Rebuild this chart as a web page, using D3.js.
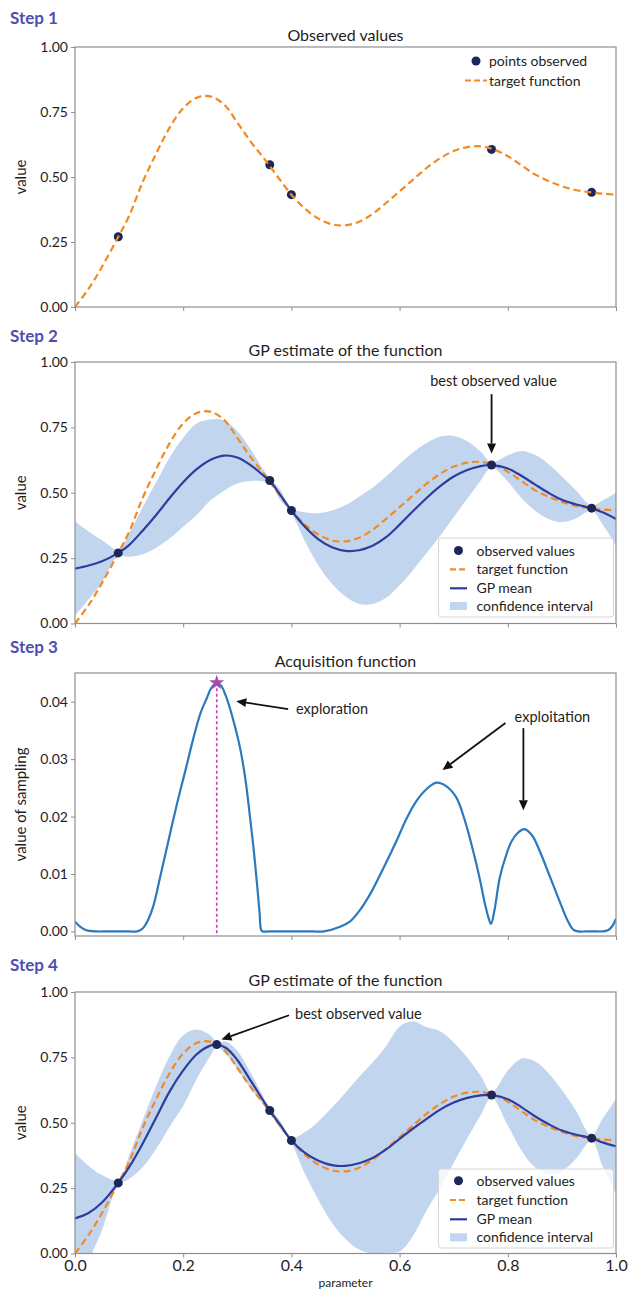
<!DOCTYPE html>
<html><head><meta charset="utf-8">
<script src="https://cdn.jsdelivr.net/npm/d3@7"></script>
<style>
body{margin:0;background:#fff;}
text{font-family:Lato,"Open Sans",sans-serif;fill:#1e1e1e;}
</style>
</head><body>
<svg id="chart" width="628" height="1291"></svg>
<script>
// ---------- DATA ----------
const stepLabels = ["Step 1","Step 2","Step 3","Step 4"];
const panelTitles = ["Observed values","GP estimate of the function","Acquisition function","GP estimate of the function"];
const valueTicks = [0,0.25,0.5,0.75,1.0];
const samplingTicks = [0,0.01,0.02,0.03,0.04];
const paramTicks = [0,0.2,0.4,0.6,0.8,1.0];

// target function
const targetX = [0,0.025,0.05,0.08,0.1,0.125,0.15,0.175,0.2,0.225,0.25,0.275,0.3,0.325,0.35,0.375,0.4,0.425,0.45,0.475,0.5,0.525,0.55,0.575,0.6,0.625,0.65,0.675,0.7,0.725,0.75,0.775,0.8,0.825,0.85,0.875,0.9,0.925,0.95,0.975,1.0];
const targetY = [0.0,0.07,0.155,0.27,0.35,0.48,0.59,0.69,0.765,0.805,0.81,0.78,0.71,0.635,0.57,0.50,0.432,0.378,0.34,0.318,0.314,0.328,0.358,0.40,0.445,0.49,0.535,0.572,0.60,0.615,0.618,0.605,0.58,0.545,0.51,0.485,0.465,0.45,0.442,0.436,0.432];

// observed points (steps 1-2)
const obsX = [0.08,0.36,0.40,0.77,0.955];
const obsY = [0.27,0.547,0.432,0.606,0.441];
// observed points after new sample (step 4)
const obs4X = [0.08,0.262,0.36,0.40,0.77,0.955];
const obs4Y = [0.27,0.799,0.547,0.432,0.606,0.441];

// step 2 GP
const gp2X = [0,0.025,0.05,0.08,0.1,0.125,0.15,0.175,0.2,0.225,0.25,0.275,0.3,0.325,0.35,0.36,0.38,0.4,0.425,0.45,0.475,0.5,0.525,0.55,0.575,0.6,0.625,0.65,0.675,0.7,0.725,0.75,0.77,0.8,0.825,0.85,0.875,0.9,0.925,0.955,0.975,1.0];
const gp2Mean = [0.21,0.222,0.238,0.27,0.30,0.355,0.415,0.48,0.54,0.59,0.625,0.642,0.635,0.605,0.563,0.547,0.49,0.432,0.37,0.322,0.292,0.278,0.28,0.297,0.33,0.378,0.43,0.48,0.525,0.562,0.587,0.602,0.606,0.593,0.565,0.532,0.50,0.473,0.456,0.441,0.425,0.40];
const gp2Lower = [0.03,0.092,0.158,0.258,0.255,0.265,0.29,0.325,0.37,0.415,0.47,0.507,0.535,0.545,0.543,0.537,0.47,0.422,0.315,0.222,0.152,0.103,0.075,0.075,0.098,0.146,0.205,0.27,0.335,0.407,0.477,0.547,0.596,0.543,0.48,0.432,0.40,0.388,0.401,0.431,0.38,0.30];
const gp2Upper = [0.39,0.352,0.318,0.282,0.345,0.445,0.54,0.635,0.71,0.765,0.78,0.777,0.735,0.665,0.583,0.557,0.51,0.442,0.425,0.422,0.432,0.453,0.485,0.519,0.562,0.61,0.655,0.69,0.715,0.717,0.697,0.657,0.616,0.643,0.66,0.645,0.61,0.562,0.511,0.451,0.47,0.50];

// step 3 acquisition function
const acqX = [0,0.01,0.021,0.04,0.06,0.08,0.1,0.115,0.125,0.135,0.145,0.157,0.172,0.188,0.204,0.219,0.232,0.244,0.252,0.262,0.27,0.28,0.292,0.305,0.315,0.323,0.33,0.336,0.341,0.344,0.347,0.36,0.38,0.40,0.42,0.44,0.46,0.49,0.508,0.525,0.545,0.57,0.594,0.612,0.631,0.65,0.668,0.686,0.705,0.72,0.736,0.748,0.758,0.764,0.769,0.775,0.785,0.796,0.807,0.82,0.831,0.845,0.859,0.878,0.896,0.91,0.921,0.93,0.945,0.96,0.975,0.985,0.993,1.0];
const acqY = [0.0017,0.0008,0.0002,0.0,0.0,0.0,0.0,0.0,0.0005,0.002,0.0045,0.0093,0.0155,0.022,0.028,0.0337,0.038,0.0407,0.0424,0.0433,0.0428,0.0407,0.037,0.032,0.0265,0.0203,0.0145,0.0087,0.0035,0.0003,0.0,0.0,0.0,0.0,0.0,0.0,0.0,0.0008,0.0017,0.0035,0.0064,0.011,0.0157,0.0195,0.0227,0.0248,0.0259,0.0253,0.0233,0.0195,0.014,0.0092,0.0047,0.0025,0.0013,0.0035,0.0093,0.013,0.0157,0.0173,0.0178,0.0167,0.014,0.0095,0.0052,0.002,0.0003,0.0,0.0,0.0,0.0,0.0002,0.0009,0.0022];
const nextX = 0.262, nextY = 0.0433;

// step 4 GP
const gp4X = [0,0.025,0.05,0.08,0.1,0.125,0.15,0.175,0.2,0.225,0.25,0.262,0.28,0.3,0.325,0.36,0.38,0.4,0.425,0.45,0.475,0.5,0.525,0.55,0.575,0.6,0.625,0.65,0.675,0.7,0.725,0.75,0.77,0.8,0.825,0.85,0.875,0.9,0.925,0.955,0.975,1.0];
const gp4Mean = [0.134,0.155,0.195,0.27,0.33,0.42,0.52,0.62,0.70,0.762,0.795,0.799,0.785,0.74,0.66,0.547,0.49,0.432,0.385,0.355,0.338,0.335,0.345,0.365,0.398,0.438,0.478,0.515,0.55,0.577,0.595,0.605,0.606,0.59,0.56,0.525,0.495,0.47,0.455,0.441,0.425,0.41];
const gp4Lower = [-0.116,-0.025,0.09,0.26,0.285,0.33,0.40,0.485,0.565,0.667,0.755,0.789,0.76,0.705,0.63,0.537,0.475,0.422,0.305,0.205,0.118,0.055,0.015,0.0,0.003,0.008,0.068,0.165,0.25,0.347,0.44,0.53,0.596,0.49,0.395,0.33,0.305,0.315,0.36,0.431,0.335,0.23];
const gp4Upper = [0.384,0.335,0.30,0.28,0.375,0.51,0.64,0.755,0.835,0.857,0.835,0.809,0.81,0.775,0.69,0.557,0.505,0.442,0.465,0.505,0.558,0.615,0.675,0.73,0.793,0.868,0.888,0.865,0.85,0.807,0.75,0.68,0.616,0.70,0.745,0.735,0.69,0.625,0.55,0.451,0.515,0.59];

const legend1Labels = ["points observed","target function"];
const legendGPLabels = ["observed values","target function","GP mean","confidence interval"];

// ---------- STYLE ----------
const C = {
  orange:"#f28a24", mean:"#2c3d9c", dot:"#1c2758", band:"#c2d5ef",
  acq:"#2b79be", magenta:"#c23fbf", star:"#a94aa8", frame:"#8f8f8f",
  step:"#4c4fb0"
};
const X0 = 75, X1 = 616;
const layout = [
  {top:47, h:260},
  {top:362, h:261.5},
  {top:673, h:263},
  {top:992, h:261.5}
];

const svg = d3.select("#chart");
const x = d3.scaleLinear().domain([0,1]).range([X0,X1]);
const zip = (a,b)=>a.map((v,i)=>[v,b[i]]);
const curve = d3.curveCatmullRom.alpha(0.5);

function makePanel(i, yDomain, yTicks, yFmt, yLabel, showX){
  const L = layout[i];
  const y = d3.scaleLinear().domain(yDomain).range([L.top+L.h, L.top]);
  const g = svg.append("g");
  const clipId = "clip"+i;
  svg.append("clipPath").attr("id",clipId).append("rect")
    .attr("x",X0).attr("y",L.top).attr("width",X1-X0).attr("height",L.h);
  const plot = g.append("g").attr("clip-path",`url(#${clipId})`);
  const ya = g.append("g").attr("transform",`translate(${X0},0)`)
    .call(d3.axisLeft(y).tickValues(yTicks).tickFormat(d3.format(yFmt)).tickSize(4).tickPadding(3));
  ya.select(".domain").remove();
  ya.selectAll("line").attr("stroke",C.frame);
  ya.selectAll("text").style("font-size","14px").style("font-family","Lato").attr("fill","#1e1e1e");
  const xa = g.append("g").attr("transform",`translate(0,${L.top+L.h})`)
    .call(d3.axisBottom(x).tickValues(paramTicks).tickFormat(showX? d3.format(".1f") : ()=>"").tickSize(4).tickPadding(2));
  xa.select(".domain").remove();
  xa.selectAll("line").attr("stroke",C.frame);
  xa.selectAll("text").style("font-size","16px").style("font-family","Lato").attr("fill","#1e1e1e");
  const frame = ()=> g.append("rect").attr("x",X0).attr("y",L.top).attr("width",X1-X0).attr("height",L.h)
    .attr("fill","none").attr("stroke",C.frame).attr("stroke-width",1.2);
  svg.append("text").attr("x",10).attr("y",L.top-[23,20,20,21][i]).text(stepLabels[i])
    .style("font-size","17px").style("font-weight","700").style("fill",C.step);
  svg.append("text").attr("x",(X0+X1)/2).attr("y",L.top-6).attr("text-anchor","middle")
    .text(panelTitles[i]).style("font-size","16px");
  svg.append("text").attr("transform",`translate(${26},${L.top+L.h/2}) rotate(-90)`)
    .attr("text-anchor","middle").text(yLabel).style("font-size","15px");
  return {g, plot, y, frame, L};
}

function drawTarget(P){
  P.plot.append("path").datum(zip(targetX,targetY))
    .attr("d", d3.line().x(d=>x(d[0])).y(d=>P.y(d[1])).curve(curve))
    .attr("fill","none").attr("stroke",C.orange).attr("stroke-width",2.2).attr("stroke-dasharray","7,4");
}
function drawDots(P, xs, ys){
  P.g.append("g").selectAll("circle").data(zip(xs,ys)).join("circle")
    .attr("cx",d=>x(d[0])).attr("cy",d=>P.y(d[1])).attr("r",4.5).attr("fill",C.dot);
}
function drawBand(P, xs, lo, hi){
  const data = xs.map((v,i)=>[v,lo[i],hi[i]]);
  P.plot.append("path").datum(data)
    .attr("d", d3.area().x(d=>x(d[0])).y0(d=>P.y(d[1])).y1(d=>P.y(d[2])).curve(curve))
    .attr("fill",C.band).attr("stroke","none");
}
function drawMean(P, xs, ys){
  P.plot.append("path").datum(zip(xs,ys))
    .attr("d", d3.line().x(d=>x(d[0])).y(d=>P.y(d[1])).curve(curve))
    .attr("fill","none").attr("stroke",C.mean).attr("stroke-width",2.2);
}
function arrow(g, x1,y1,x2,y2){
  const ang = Math.atan2(y2-y1,x2-x1), hl=10, hw=4.5;
  const bx = x2-hl*Math.cos(ang), by = y2-hl*Math.sin(ang);
  g.append("line").attr("x1",x1).attr("y1",y1).attr("x2",bx).attr("y2",by)
    .attr("stroke","#111").attr("stroke-width",1.8);
  const px=-Math.sin(ang), py=Math.cos(ang);
  g.append("path").attr("d",`M${x2},${y2}L${bx+px*hw},${by+py*hw}L${bx-px*hw},${by-py*hw}Z`).attr("fill","#111");
}
function gpLegend(P, rowCenters, box){
  const g = P.g.append("g");
  g.append("rect").attr("x",box[0]).attr("y",box[1]).attr("width",box[2]).attr("height",box[3])
    .attr("rx",3).attr("fill","#fff").attr("fill-opacity",0.8).attr("stroke","#d6d6d6");
  const hx0=450, hx1=467, tx=476.5;
  legendGPLabels.forEach((lab,i)=>{
    const cy=rowCenters[i];
    if(i===0) g.append("circle").attr("cx",(hx0+hx1)/2).attr("cy",cy).attr("r",4.5).attr("fill",C.dot);
    if(i===1) g.append("line").attr("x1",hx0).attr("x2",hx1).attr("y1",cy).attr("y2",cy)
       .attr("stroke",C.orange).attr("stroke-width",2.2).attr("stroke-dasharray","6,3");
    if(i===2) g.append("line").attr("x1",hx0).attr("x2",hx1).attr("y1",cy).attr("y2",cy)
       .attr("stroke",C.mean).attr("stroke-width",2.2);
    if(i===3) g.append("rect").attr("x",hx0).attr("y",cy-4).attr("width",hx1-hx0).attr("height",8).attr("fill",C.band);
    g.append("text").attr("x",tx).attr("y",cy+5).text(lab).style("font-size","14px");
  });
}

// ---------- PANEL 1 ----------
const P1 = makePanel(0,[0,1],valueTicks,".2f","value",false);
drawDots(P1, obsX, obsY);
drawTarget(P1);
P1.plot.raise();
{
  const g=P1.g.append("g");
  g.append("circle").attr("cx",476).attr("cy",61).attr("r",4.5).attr("fill",C.dot);
  g.append("text").attr("x",489).attr("y",66).text(legend1Labels[0]).style("font-size","14px");
  g.append("line").attr("x1",465).attr("x2",487).attr("y1",80.5).attr("y2",80.5)
    .attr("stroke",C.orange).attr("stroke-width",2.2).attr("stroke-dasharray","6,3");
  g.append("text").attr("x",489).attr("y",86).text(legend1Labels[1]).style("font-size","14px");
}
P1.frame();

// ---------- PANEL 2 ----------
const P2 = makePanel(1,[0,1],valueTicks,".2f","value",false);
drawBand(P2, gp2X, gp2Lower, gp2Upper);
drawTarget(P2);
drawMean(P2, gp2X, gp2Mean);
drawDots(P2, obsX, obsY);
gpLegend(P2,[550.5,569.3,588.3,606],[438.5,538,175,79]);
{
  const bx = x(obsX[3]);
  P2.g.append("text").attr("x",bx+2).attr("y",P2.y(0.907)).attr("text-anchor","middle")
    .text("best observed value").style("font-size","14.5px");
  arrow(P2.g, bx, P2.y(0.877), bx, P2.y(0.65));
}
P2.frame();

// ---------- PANEL 3 ----------
const P3 = makePanel(2,[-0.0008,0.045],samplingTicks,".2f","value of sampling",false);
P3.plot.append("line").attr("x1",x(nextX)).attr("x2",x(nextX)).attr("y1",P3.y(nextY)).attr("y2",P3.L.top+P3.L.h)
  .attr("stroke",C.magenta).attr("stroke-width",1.6).attr("stroke-dasharray","3,2.5");
P3.plot.append("path").datum(zip(acqX,acqY))
  .attr("d", d3.line().x(d=>x(d[0])).y(d=>P3.y(d[1])).curve(curve))
  .attr("fill","none").attr("stroke",C.acq).attr("stroke-width",2.2);
P3.g.append("path").attr("d",d3.symbol().type(d3.symbolStar).size(70)())
  .attr("transform",`translate(${x(nextX)},${P3.y(nextY)})`).attr("fill",C.star);
P3.g.append("text").attr("x",x(0.4085)).attr("y",P3.y(0.0387)+5).text("exploration").style("font-size","14.5px");
arrow(P3.g, x(0.394), P3.y(0.0387), x(0.298), P3.y(0.0401));
P3.g.append("text").attr("x",x(0.8126)).attr("y",P3.y(0.0374)+5).text("exploitation").style("font-size","14.5px");
arrow(P3.g, x(0.7956), P3.y(0.0363), x(0.6793), P3.y(0.0281));
arrow(P3.g, x(0.8288), P3.y(0.0354), x(0.8288), P3.y(0.0211));
P3.frame();

// ---------- PANEL 4 ----------
const P4 = makePanel(3,[0,1],valueTicks,".2f","value",true);
drawBand(P4, gp4X, gp4Lower, gp4Upper);
drawTarget(P4);
drawMean(P4, gp4X, gp4Mean);
drawDots(P4, obs4X, obs4Y);
gpLegend(P4,[1180.7,1200,1219.3,1237.3],[438.5,1169,175,79]);
P4.g.append("text").attr("x",x(0.4067)).attr("y",P4.y(0.917)+5).text("best observed value").style("font-size","14.5px");
arrow(P4.g, x(0.3956), P4.y(0.911), x(0.2708), P4.y(0.818));
P4.frame();
svg.append("text").attr("x",(X0+X1)/2).attr("y",1287).attr("text-anchor","middle").text("parameter").style("font-size","12px");
</script>
</body></html>
